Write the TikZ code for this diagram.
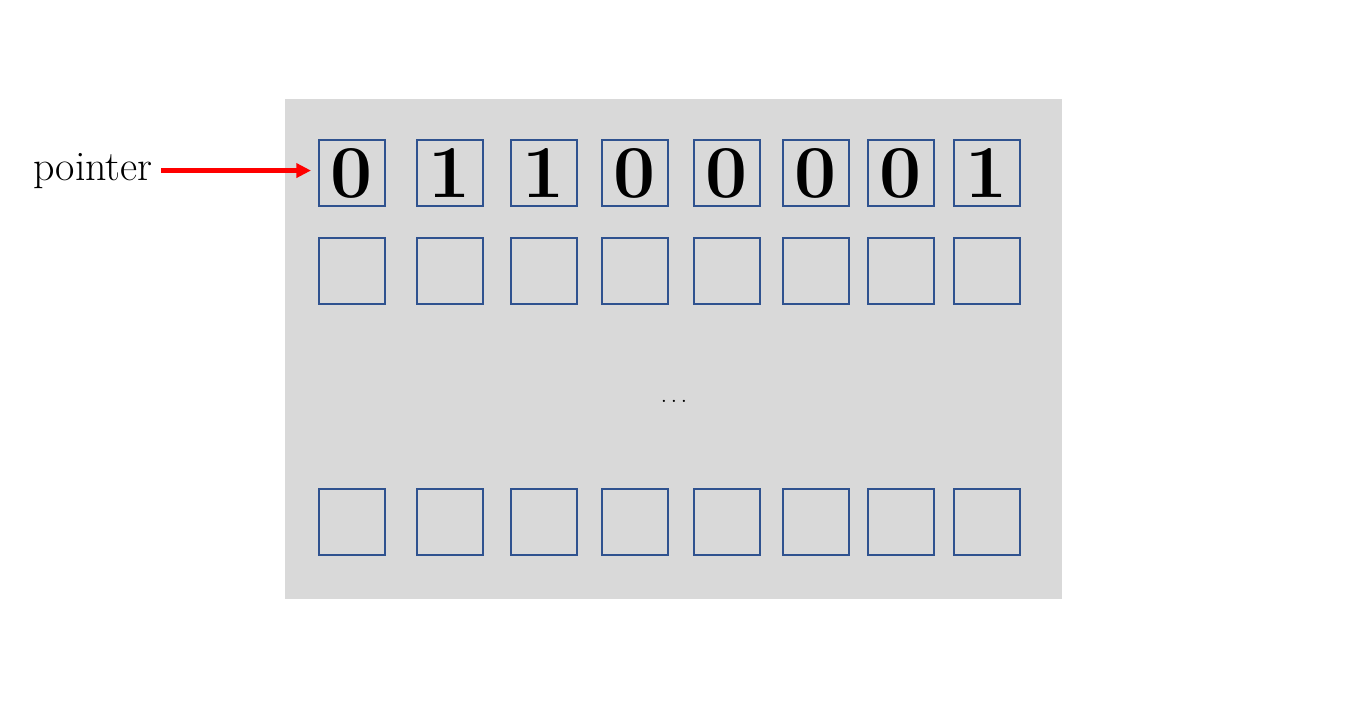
\documentclass[tikz,border=0pt]{standalone}
\usetikzlibrary{arrows.meta}
\definecolor{boxblue}{HTML}{2F528F}
\definecolor{panelgray}{HTML}{D9D9D9}
\definecolor{ptrred}{HTML}{FF0000}
\tikzset{
  cell/.style={draw=boxblue, line width=1.5pt, minimum width=49.5pt, minimum height=49.5pt, inner sep=0pt, outer sep=0pt},
  digit/.style={font=\fontsize{56}{56}\selectfont\bfseries, inner sep=0pt},
  ptrlabel/.style={inner sep=0pt, font=\fontsize{31.5}{31.5}\selectfont},
  ptrarrow/.style={draw=ptrred, line width=3.75pt, -{Triangle[length=11pt,width=10.5pt]}}
}
\begin{document}
\begin{tikzpicture}[x=0.75pt,y=-0.75pt]
\useasboundingbox (0,0) rectangle (1362,722);
\fill[panelgray] (285,99) rectangle (1062,599);
\def\xs{352,450,544,635,727,816,901,987}
\foreach \xx [count=\i] in \xs {
  \node[cell] (b1\i) at (\xx,173) {};
  \node[cell] (b2\i) at (\xx,271) {};
  \node[cell] (b3\i) at (\xx,522) {};
}
\foreach \d [count=\i] in {0,1,1,0,0,0,0,1} {
  \node[digit] (d\i) at (b1\i.center) {\d};
}
\node[font=\fontsize{16}{16}\selectfont, inner sep=0pt, anchor=base] (dots) at (674,402) {$\ldots$};
\node[ptrlabel, anchor=base east] (ptr) at (153,180) {pointer};
\draw[ptrarrow, shorten <=6pt, shorten >=6pt] (ptr.east) -- (ptr.east -| b11.west);
\end{tikzpicture}
\end{document}
